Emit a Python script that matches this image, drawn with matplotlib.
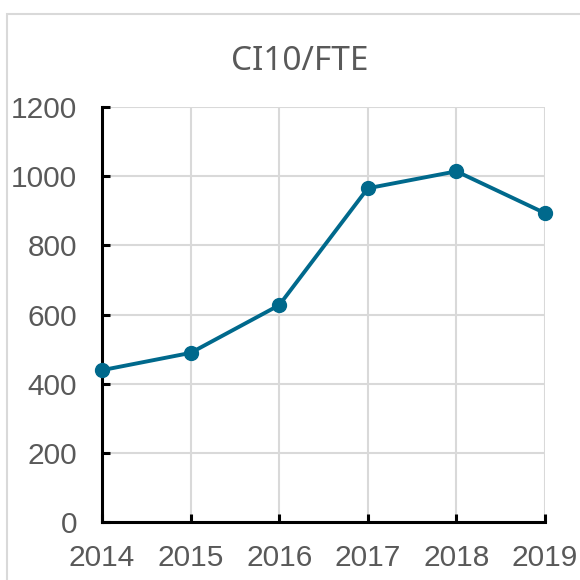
import matplotlib.pyplot as plt
from matplotlib.patches import Rectangle

plt.rcParams['font.family'] = ['Liberation Sans', 'DejaVu Sans']

years = ['2014', '2015', '2016', '2017', '2018', '2019']
values = [439, 489, 627, 965, 1014, 893]

fig = plt.figure(figsize=(5.8, 5.8), dpi=100)
# chart frame (cropped on the right and bottom)
fig.patches.append(Rectangle((7 / 580, -0.05), 1.2, 1 - 14 / 580 + 0.05,
                             transform=fig.transFigure, fill=False,
                             edgecolor='#d9d9d9', linewidth=1.5))

ax = fig.add_axes([102 / 580, 58 / 580, 443 / 580, 415 / 580])
x = range(len(years))
ax.plot(x, values, color='#00698c', linewidth=2.8, marker='o', markersize=10,
        zorder=3, clip_on=False)

ax.set_xlim(0, len(years) - 1)
ax.set_ylim(0, 1200)
ax.set_yticks(range(0, 1201, 200))
ax.set_xticks(list(x))
ax.set_xticklabels(years)

ax.grid(True, color='#d9d9d9', linewidth=1.5)
ax.set_axisbelow(True)
for s in ['top', 'right']:
    ax.spines[s].set_visible(False)
for s in ['left', 'bottom']:
    ax.spines[s].set_color('black')
    ax.spines[s].set_linewidth(2.2)

ax.tick_params(axis='both', direction='in', length=6, width=2.2, color='black',
               labelcolor='#595959', labelsize=21.5)
ax.tick_params(axis='x', pad=16)
ax.tick_params(axis='y', pad=18)

fig.text(300 / 580, 1 - 62 / 580, 'CI10/FTE', ha='center', va='center',
         fontsize=24, color='#595959', family=['Noto Sans', 'DejaVu Sans'])

fig.savefig('out.png', dpi=100)
